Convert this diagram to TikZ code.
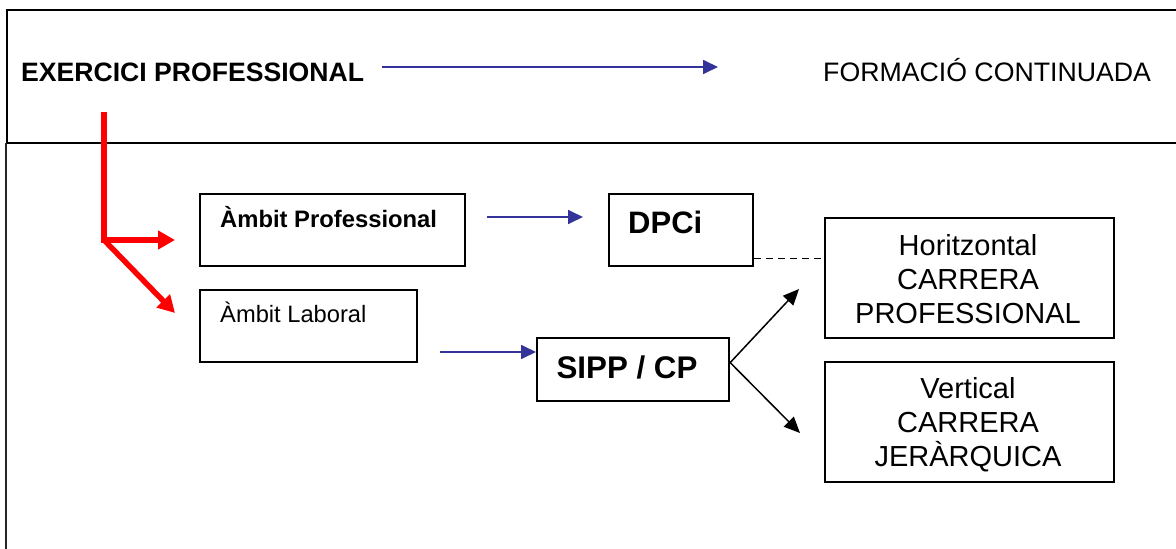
\documentclass[tikz,border=0pt]{standalone}
\usepackage{fontspec}
\setmainfont{Liberation Sans}
\usetikzlibrary{arrows.meta}
\definecolor{navyblue}{RGB}{51,51,153}
\definecolor{pured}{RGB}{255,0,0}
\begin{document}
\begin{tikzpicture}[x=1pt,y=-1pt,
  frame/.style={draw=black, line width=2.2pt, inner sep=0pt, anchor=north west},
  txt/.style={inner sep=0pt, anchor=base west},
  ctxt/.style={inner sep=0pt, anchor=base, font=\fontsize{29}{34}\selectfont},
  bluearrow/.style={draw=navyblue, line width=1.8pt, -{Triangle[length=15pt,width=14pt]}},
  blackarrow/.style={draw=black, line width=1.5pt, -{Triangle[length=16pt,width=14pt]}},
  redline/.style={draw=pured, line width=5.5pt},
  redarrow/.style={draw=pured, line width=5.5pt, -{Triangle[length=17pt,width=18pt]}},
  dashline/.style={draw=black, line width=1.3pt, dash pattern=on 7pt off 5pt}]
\useasboundingbox (0,0) rectangle (1176,549);
\fill[white] (0,0) rectangle (1176,549);

% outer frames
\draw[line width=2.6pt] (1180,10) -- (7,10) -- (7,143) -- (1180,143);
\draw[line width=2.2pt, draw=black!85] (6,143) -- (6,552);

% header texts
\node[txt, font=\fontsize{26.6}{32}\selectfont\bfseries] (exer) at (21,81) {EXERCICI PROFESSIONAL};
\node[txt, font=\fontsize{26.7}{32}\selectfont] (form) at (823,81) {FORMACIÓ CONTINUADA};

% boxes
\node[frame, minimum width=265pt, minimum height=72pt] (ap) at (199,193) {};
\node[frame, minimum width=217pt, minimum height=72pt] (al) at (199,289) {};
\node[frame, minimum width=144pt, minimum height=72pt] (dpci) at (608,193) {};
\node[frame, minimum width=192pt, minimum height=63pt] (sipp) at (536,337) {};
\node[frame, minimum width=289pt, minimum height=120pt] (hor) at (824,217) {};
\node[frame, minimum width=289pt, minimum height=120pt] (ver) at (824,361) {};

% box texts
\node[txt, font=\fontsize{23.8}{28}\selectfont\bfseries] (apt) at (220,227) {Àmbit Professional};
\node[txt, font=\fontsize{23.7}{28}\selectfont] (alt) at (220,322) {Àmbit Laboral};
\node[txt, font=\fontsize{31}{36}\selectfont\bfseries] (dpcit) at (628,233) {DPCi};
\node[inner sep=0pt, anchor=base, font=\fontsize{31.3}{36}\selectfont\bfseries] (sippt) at (627,378) {SIPP / CP};
\node[ctxt] (h1) at (968,255) {Horitzontal};
\node[ctxt] (h2) at (968,289) {CARRERA};
\node[ctxt] (h3) at (968,323) {PROFESSIONAL};
\node[ctxt] (v1) at (968,398) {Vertical};
\node[ctxt] (v2) at (968,432) {CARRERA};
\node[ctxt] (v3) at (968,466) {JERÀRQUICA};

% blue arrows
\coordinate (t1) at (382,67);
\coordinate (t2) at (718,67);
\draw[bluearrow] (t1) -- (t2);
\coordinate (b1) at (487,217);
\coordinate (b2) at (583,217);
\draw[bluearrow] (b1) -- (b2);
\coordinate (c1) at (440,352);
\draw[bluearrow] (c1) -- (c1 -| sipp.west);

% dashed link
\coordinate (d1) at ([yshift=9pt]dpci.south east);
\draw[dashline] (d1) -- (d1 -| hor.west);

% black arrows
\coordinate (s0) at ([yshift=7pt]sipp.east);
\coordinate (s1) at (799,289);
\coordinate (s2) at (800,433);
\draw[blackarrow] (s0) -- (s1);
\draw[blackarrow] (s0) -- (s2);

% red arrows
\coordinate (r0) at (104,112);
\coordinate (r1) at (104,240);
\coordinate (r2) at (175,240);
\coordinate (r3) at (175,313);
\draw[redline] (r0) -- (r1);
\draw[redarrow] ([xshift=-2.75pt]r1) -- (r2);
\draw[redarrow] (r1) -- (r3);
\end{tikzpicture}
\end{document}
